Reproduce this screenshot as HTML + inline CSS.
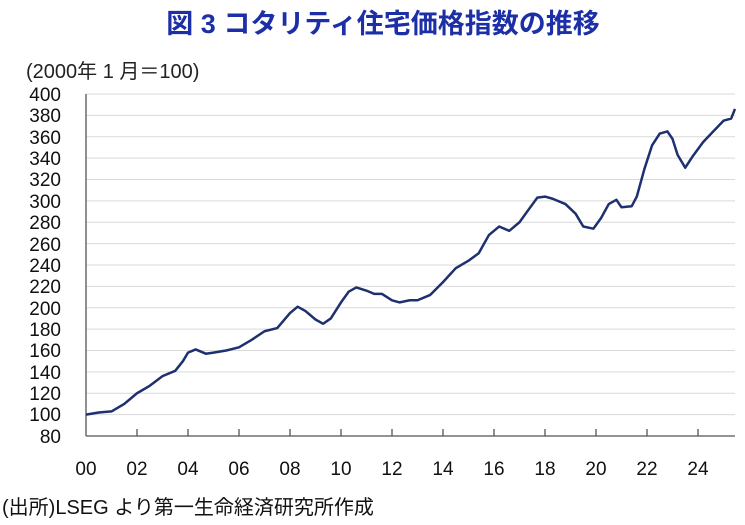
<!DOCTYPE html>
<html><head><meta charset="utf-8"><style>
body{margin:0;width:745px;height:520px;background:#fff;overflow:hidden}
svg{font-family:"Liberation Sans","Noto Sans CJK JP",sans-serif}
</style></head><body>
<svg width="745" height="520" xmlns="http://www.w3.org/2000/svg">
<text x="383" y="33" text-anchor="middle" font-size="27" font-weight="bold" fill="#1c2fa6">図 3  コタリティ住宅価格指数の推移</text>
<text x="26" y="78" font-size="20" fill="#222">(2000年 1 月＝100)</text>
<g stroke="#d9d9d9" stroke-width="1">
<line x1="86" x2="735" y1="94" y2="94"/><line x1="86" x2="735" y1="115.4" y2="115.4"/><line x1="86" x2="735" y1="136.8" y2="136.8"/><line x1="86" x2="735" y1="158.1" y2="158.1"/><line x1="86" x2="735" y1="179.5" y2="179.5"/><line x1="86" x2="735" y1="200.9" y2="200.9"/><line x1="86" x2="735" y1="222.3" y2="222.3"/><line x1="86" x2="735" y1="243.6" y2="243.6"/><line x1="86" x2="735" y1="265" y2="265"/><line x1="86" x2="735" y1="286.4" y2="286.4"/><line x1="86" x2="735" y1="307.8" y2="307.8"/><line x1="86" x2="735" y1="329.1" y2="329.1"/><line x1="86" x2="735" y1="350.5" y2="350.5"/><line x1="86" x2="735" y1="371.9" y2="371.9"/><line x1="86" x2="735" y1="393.3" y2="393.3"/><line x1="86" x2="735" y1="414.6" y2="414.6"/>
</g>
<g stroke="#555" stroke-width="1.3">
<line x1="86" y1="94" x2="86" y2="436"/><line x1="86" y1="436" x2="735" y2="436"/>
<line x1="137" y1="429" x2="137" y2="436"/><line x1="188" y1="429" x2="188" y2="436"/><line x1="239" y1="429" x2="239" y2="436"/><line x1="290" y1="429" x2="290" y2="436"/><line x1="341" y1="429" x2="341" y2="436"/><line x1="392" y1="429" x2="392" y2="436"/><line x1="443" y1="429" x2="443" y2="436"/><line x1="494" y1="429" x2="494" y2="436"/><line x1="545" y1="429" x2="545" y2="436"/><line x1="596" y1="429" x2="596" y2="436"/><line x1="647" y1="429" x2="647" y2="436"/><line x1="698" y1="429" x2="698" y2="436"/>
</g>
<g font-size="19" fill="#111" text-anchor="end">
<text x="61" y="101">400</text><text x="61" y="122">380</text><text x="61" y="144">360</text><text x="61" y="165">340</text><text x="61" y="186">320</text><text x="61" y="208">300</text><text x="61" y="229">280</text><text x="61" y="251">260</text><text x="61" y="272">240</text><text x="61" y="293">220</text><text x="61" y="315">200</text><text x="61" y="336">180</text><text x="61" y="357">160</text><text x="61" y="379">140</text><text x="61" y="400">120</text><text x="61" y="421">100</text><text x="61" y="443">80</text>
</g>
<g font-size="19" fill="#111" text-anchor="middle">
<text x="86" y="475">00</text><text x="137" y="475">02</text><text x="188" y="475">04</text><text x="239" y="475">06</text><text x="290" y="475">08</text><text x="341" y="475">10</text><text x="392" y="475">12</text><text x="443" y="475">14</text><text x="494" y="475">16</text><text x="545" y="475">18</text><text x="596" y="475">20</text><text x="647" y="475">22</text><text x="698" y="475">24</text>
</g>
<g transform="translate(86,436) scale(25.5,-1.06875) translate(-2000,-80)">
<polyline fill="none" stroke="#1f3070" stroke-width="2.5" vector-effect="non-scaling-stroke" stroke-linejoin="round" points="2000,100 2000.5,102 2001,103 2001.5,110 2002,120 2002.5,127 2003,136 2003.5,141 2003.8,150 2004,158 2004.3,161 2004.7,157 2005,158 2005.5,160 2006,163 2006.5,170 2007,178 2007.5,181 2008,195 2008.3,201 2008.6,197 2009,189 2009.3,185 2009.6,190 2010,205 2010.3,215 2010.6,219 2011,216 2011.3,213 2011.6,213 2012,207 2012.3,205 2012.7,207 2013,207 2013.5,212 2014,224 2014.5,237 2015,244 2015.4,251 2015.8,268 2016.2,276 2016.6,272 2017,280 2017.3,290 2017.7,303 2018,304 2018.3,302 2018.8,297 2019.2,288 2019.5,276 2019.9,274 2020.2,284 2020.5,297 2020.8,301 2021,294 2021.4,295 2021.6,304 2021.9,330 2022.2,352 2022.5,363 2022.8,365 2023,358 2023.2,343 2023.5,331 2023.8,342 2024.2,355 2024.6,365 2025,375 2025.3,377 2025.45,386"/>
</g>
<text x="2" y="514" font-size="20" fill="#111">(出所)LSEG より第一生命経済研究所作成</text>
</svg>
</body></html>
